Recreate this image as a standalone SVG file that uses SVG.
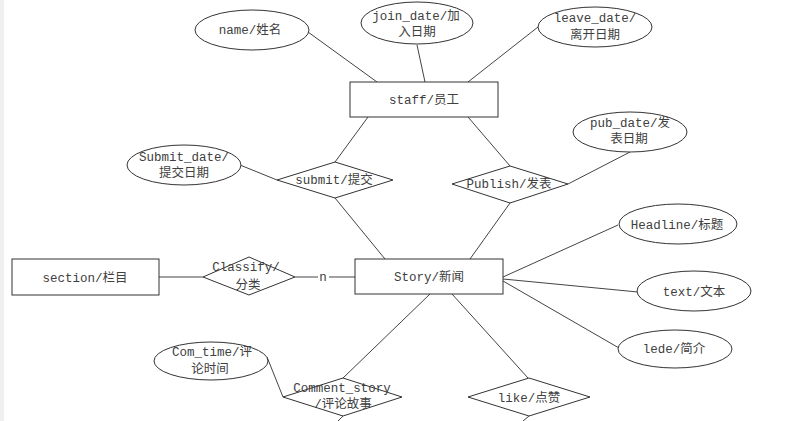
<svg xmlns="http://www.w3.org/2000/svg" width="800" height="421" viewBox="0 0 800 421">
<style>
.s{fill:#fff;stroke:#333;stroke-width:1}
.c line,.c polyline{stroke:#444;stroke-width:1;fill:none}
text{font-family:"Liberation Mono","Noto Sans CJK SC",monospace;font-size:12.5px;fill:#404040;text-anchor:middle}
</style>
<rect x="0" y="0" width="800" height="421" fill="#fff"/>
<rect x="0" y="0" width="4" height="421" fill="#f0f0f0"/>
<g class="c" id="connectors">
<line x1="308" y1="32" x2="377" y2="82"/>
<line x1="417" y1="45" x2="425" y2="82"/>
<line x1="538" y1="27" x2="468" y2="82"/>
<line x1="368" y1="117" x2="335" y2="162"/>
<line x1="468" y1="117" x2="510" y2="166"/>
<line x1="240" y1="165" x2="277" y2="180"/>
<line x1="335" y1="198" x2="385" y2="259"/>
<line x1="510" y1="203" x2="470" y2="259"/>
<line x1="568" y1="184" x2="630" y2="152"/>
<line x1="503" y1="277" x2="618" y2="225"/>
<line x1="503" y1="279" x2="638" y2="292"/>
<line x1="503" y1="281" x2="619" y2="348"/>
<line x1="430" y1="294" x2="343" y2="378"/>
<line x1="452" y1="294" x2="528" y2="378"/>
<line x1="267" y1="357" x2="283" y2="397"/>
<line x1="159" y1="277" x2="203" y2="277"/>
<line x1="295" y1="277" x2="318" y2="277"/>
<line x1="329" y1="277" x2="355" y2="277"/>
<line x1="343" y1="416" x2="338" y2="421"/>
<line x1="529" y1="416" x2="523" y2="421"/>
<text x="323" y="281">n</text>
</g>
<g id="name"><ellipse class="s" cx="252" cy="30" rx="57" ry="20"/><text x="250" y="34">name/姓名</text></g>
<g id="join_date"><ellipse class="s" cx="417" cy="23" rx="56" ry="21"/><text x="416" y="20">join_date/加</text><text x="417" y="36">入日期</text></g>
<g id="leave_date"><ellipse class="s" cx="595" cy="27" rx="57" ry="20"/><text x="595" y="22">leave_date/</text><text x="595" y="39">离开日期</text></g>
<g id="staff"><rect class="s" x="350" y="82" width="148" height="35"/><text x="424" y="104">staff/员工</text></g>
<g id="pub_date"><ellipse class="s" cx="630" cy="132" rx="57" ry="20"/><text x="630" y="127">pub_date/发</text><text x="629" y="143">表日期</text></g>
<g id="submit_date"><ellipse class="s" cx="184" cy="165" rx="57" ry="20"/><text x="184" y="161">Submit_date/</text><text x="184" y="177">提交日期</text></g>
<g id="submit"><polygon class="s" points="277,180 335,162 393,180 335,198"/><text x="334" y="184">submit/提交</text></g>
<g id="publish"><polygon class="s" points="452,184 510,166 568,184 510,203"/><text x="509" y="188">Publish/发表</text></g>
<g id="story"><rect class="s" x="355" y="259" width="148" height="35"/><text x="429" y="281">Story/新闻</text></g>
<g id="headline"><ellipse class="s" cx="678" cy="224" rx="59" ry="20"/><text x="677" y="229">Headline/标题</text></g>
<g id="text"><ellipse class="s" cx="694" cy="291" rx="57" ry="20"/><text x="694" y="296">text/文本</text></g>
<g id="lede"><ellipse class="s" cx="675" cy="349" rx="57" ry="19"/><text x="674" y="353">lede/简介</text></g>
<g id="section"><rect class="s" x="12" y="259" width="147" height="36"/><text x="85" y="282">section/栏目</text></g>
<g id="classify"><polygon class="s" points="203,277 249,257 295,277 249,295"/><text x="246" y="271">Classify/</text><text x="248" y="289">分类</text></g>
<g id="com_time"><ellipse class="s" cx="211" cy="361" rx="57" ry="19"/><text x="212" y="356">Com_time/评</text><text x="210" y="373">论时间</text></g>
<g id="comment_story"><polygon class="s" points="283,397 343,378 402,397 343,416"/><text x="342" y="392">Comment_story</text><text x="343" y="408">/评论故事</text></g>
<g id="like"><polygon class="s" points="468,397 529,378 590,397 529,416"/><text x="529" y="402">like/点赞</text></g>
</svg>
